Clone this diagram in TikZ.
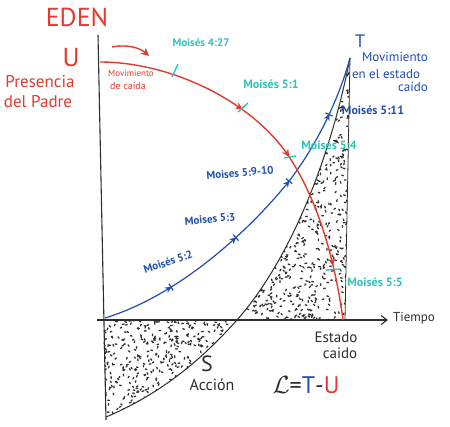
\documentclass[tikz,border=0pt]{standalone}
\usepackage{fontspec}
\setmainfont{PT Sans}
\usetikzlibrary{arrows.meta,decorations.markings}
\definecolor{myred}{HTML}{E53A2E}
\definecolor{mycyan}{HTML}{2EC4B6}
\definecolor{myblue}{HTML}{1E4FB4}
\definecolor{ink}{HTML}{2E2E2E}
\begin{document}
\begin{tikzpicture}[x=1pt,y=-1pt,
  axisline/.style={ink,line width=1.1pt},
  curveT/.style={ink,line width=1pt},
  dotst/.style={ink,line width=1.3pt,line cap=round},
  redc/.style={myred,line width=1.4pt},
  bluec/.style={myblue,line width=1.2pt},
  tickc/.style={mycyan,line width=1.4pt},
  redlbl/.style={myred,inner sep=0pt},
  cyanlbl/.style={mycyan,inner sep=0pt,font=\fontsize{12}{12}\selectfont\bfseries},
  bluelbl/.style={myblue,inner sep=0pt,font=\fontsize{12}{12}\selectfont\bfseries},
  inklbl/.style={ink,inner sep=0pt}]
\useasboundingbox[fill=white] (0,0) rectangle (450,426);

% dotted regions
\begin{scope}
\clip (237,320) .. controls (290,260) and (330,160) .. (350,58) -- (345,320) -- cycle;
\pgfmathsetseed{7}
\foreach \i in {1,...,1100}{
  \pgfmathsetmacro{\xx}{237+113*rnd}
  \pgfmathsetmacro{\yy}{58+262*rnd}
  \pgfmathsetmacro{\aa}{360*rnd}
  \draw[dotst] (\xx,\yy) -- ++(\aa:1.7);
}
\end{scope}
\begin{scope}
\clip (103,320) -- (237,320) .. controls (210,350) and (170,390) .. (106,417) -- cycle;
\pgfmathsetseed{11}
\foreach \i in {1,...,500}{
  \pgfmathsetmacro{\xx}{103+134*rnd}
  \pgfmathsetmacro{\yy}{320+97*rnd}
  \pgfmathsetmacro{\aa}{360*rnd}
  \draw[dotst] (\xx,\yy) -- ++(\aa:1.7);
}
\end{scope}

% axes
\coordinate (vtop) at (98,35);
\coordinate (vbot) at (106,420);
\coordinate (hleft) at (97,320);
\coordinate (hright) at (388,320);
\draw[axisline] (vtop) -- (vbot);
\draw[axisline,-{Straight Barb[length=6pt,width=9pt]}] (hleft) -- (hright);

% T curve and right boundary
\coordinate (tbot) at (106,417);
\coordinate (tmid) at (237,320);
\coordinate (ttop) at (350,58);
\coordinate (rbot) at (345,320);
\draw[curveT] (tbot) .. controls (170,390) and (210,350) .. (tmid)
  .. controls (290,260) and (330,160) .. (ttop);
\draw[curveT,line width=0.8pt] (ttop) -- (rbot);

% blue curve
\coordinate (bstart) at (105,318);
\coordinate (bmid) at (290,180);
\draw[bluec,decoration={markings,
   mark=at position 0.2 with {\arrow{Stealth[length=7pt,width=6pt]}\draw[line width=1.2pt] (-1,-4)--(-1,4);},
   mark=at position 0.42 with {\arrow{Stealth[length=7pt,width=6pt]}\draw[line width=1.2pt] (-1,-4)--(-1,4);},
   mark=at position 0.63 with {\arrow{Stealth[length=7pt,width=6pt]}\draw[line width=1.2pt] (-1,-4)--(-1,4);},
   mark=at position 0.84 with {\arrow{Stealth[length=7pt,width=6pt]}\draw[line width=1.2pt] (-1,-4)--(-1,4);}},
   postaction={decorate}]
  (bstart) .. controls (180,295) and (250,230) .. (bmid)
  .. controls (320,140) and (340,95) .. (ttop);

% red curve
\coordinate (rstart) at (100,62);
\coordinate (rmid) at (288,155);
\coordinate (rend) at (343,320);
\draw[redc,decoration={markings,
   mark=at position 0.39 with {\arrow{Stealth[length=8pt,width=7pt]}},
   mark=at position 0.56 with {\arrow{Stealth[length=8pt,width=7pt]}},
   mark=at position 0.86 with {\arrow{Stealth[length=8pt,width=7pt]}}},
   postaction={decorate}]
  (rstart) .. controls (170,62) and (250,100) .. (rmid)
  .. controls (318,200) and (335,260) .. (rend);

% cyan ticks
\draw[tickc] (172,77) -- (178,64);
\draw[tickc] (238,112) -- (248,103);
\draw[tickc] (284,158) -- (296,156);
\draw[tickc] (326,270) -- (341,269);

% red top arrow
\coordinate (ra1) at (112,47);
\coordinate (ra2) at (149,56);
\draw[redc,-{Stealth[length=8pt,width=8pt]}] (ra1) .. controls (128,44) and (140,48) .. (ra2);

% labels
\node[redlbl,font=\fontsize{26}{26}\selectfont] (eden) at (77,17) {EDEN};
\node[redlbl,font=\fontsize{26}{26}\selectfont] (u) at (71,58) {U};
\node[redlbl,font=\fontsize{17}{17}\selectfont] (pres) at (40,82) {Presencia};
\node[redlbl,font=\fontsize{17}{17}\selectfont] (padre) at (38,102) {del Padre};
\node[redlbl,font=\fontsize{9}{9}\selectfont] (mov1) at (131,73) {Movimiento};
\node[redlbl,font=\fontsize{10}{10}\selectfont] (mov2) at (128,86) {de caída};

\node[cyanlbl,font=\fontsize{11}{11}\selectfont\bfseries] (m427) at (201,43) {Moisés 4:27};
\node[cyanlbl] (m51) at (271,84) {Moisés 5:1};
\node[cyanlbl] (m54) at (329,145) {Moisés 5:4};
\node[cyanlbl] (m55) at (375,282) {Moisés 5:5};

\node[bluelbl,font=\fontsize{18}{18}\selectfont] (tl) at (360,41) {T};
\node[bluelbl,font=\fontsize{13}{13}\selectfont] (mv) at (395,57) {Movimiento};
\node[bluelbl,font=\fontsize{13}{13}\selectfont] (ee) at (386,74) {en el estado};
\node[bluelbl,font=\fontsize{13}{13}\selectfont] (cd) at (413,87) {caído};
\node[bluelbl] (m511) at (373,110) {Moisés 5:11};
\node[bluelbl,font=\fontsize{11}{11}\selectfont\bfseries,rotate=5] (m5910) at (240,173) {Moises 5:9-10};
\node[bluelbl,font=\fontsize{11}{11}\selectfont\bfseries,rotate=5] (m53) at (210,219) {Moises 5:3};
\node[bluelbl,font=\fontsize{11}{11}\selectfont\bfseries,rotate=18] (m52) at (168,262) {Moisés 5:2};

\node[inklbl,font=\fontsize{13}{13}\selectfont] (tiempo) at (414,318) {Tiempo};
\node[inklbl,font=\fontsize{15}{15}\selectfont] (estado) at (336,337) {Estado};
\node[inklbl,font=\fontsize{15}{15}\selectfont] (caido) at (340,353) {caido};
\node[inklbl,font=\fontsize{22}{22}\selectfont] (s) at (207,364) {S};
\node[inklbl,font=\fontsize{16}{16}\selectfont] (accion) at (212,385) {Acción};
\node[inklbl,font=\fontsize{24}{24}\selectfont] (lag) at (306,385) {$\mathcal{L}$=\textcolor{myblue}{T}-\textcolor{myred}{U}};
\end{tikzpicture}
\end{document}
